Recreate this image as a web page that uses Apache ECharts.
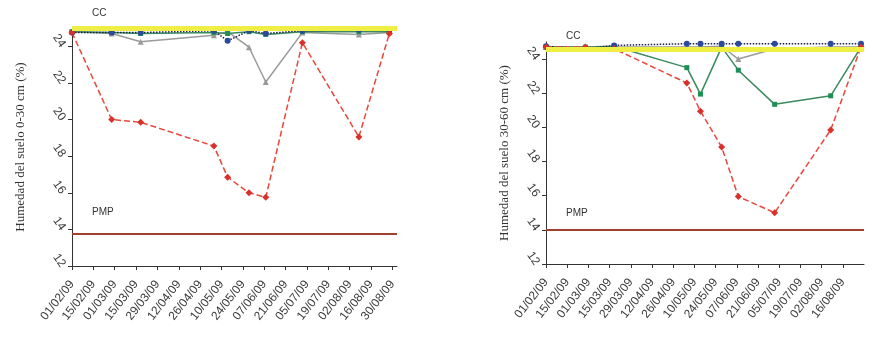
<!DOCTYPE html>
<html>
<head>
<meta charset="utf-8">
<script src="https://cdn.jsdelivr.net/npm/echarts@6/dist/echarts.min.js"></script>
<style>
    html, body { margin: 0; background: #fff; }
    #chart { width: 873px; height: 337px; }
</style>
</head>
<body>
<div id="chart"></div>
<script>
// fechas de muestreo (dd/mm/aa)
var fechas = ['01/02/09', '27/02/09', '18/03/09', '05/05/09', '14/05/09', '28/05/09', '08/06/09', '02/07/09', '08/08/09', '28/08/09'];

// etiquetas del eje x
var ticksIzq = ['01/02/09', '15/02/09', '01/03/09', '15/03/09', '29/03/09', '12/04/09', '26/04/09', '10/05/09',
    '24/05/09', '07/06/09', '21/06/09', '05/07/09', '19/07/09', '02/08/09', '16/08/09', '30/08/09'];
var ticksDer = ['01/02/09', '15/02/09', '01/03/09', '15/03/09', '29/03/09', '12/04/09', '26/04/09', '10/05/09',
    '24/05/09', '07/06/09', '21/06/09', '05/07/09', '19/07/09', '02/08/09', '16/08/09'];
var ticksY = [12, 14, 16, 18, 20, 22, 24];

// 0-30 cm
var rojo030 = [24.75, 20.0, 19.85, 18.55, 16.85, 16.0, 15.75, 24.2, 19.05, 24.7];
var gris030 = [24.8, 24.7, 24.25, 24.6, 24.8, 23.95, 22.05, 24.75, 24.65, 24.75];
var verde030 = [24.8, 24.75, 24.7, 24.75, 24.7, 24.8, 24.65, 24.8, 24.8, 24.8];
var azul030 = [24.75, 24.75, 24.75, 24.85, 24.3, 24.85, 24.7, 24.85, 24.9, 24.9];
var cc030 = 25, pmp030 = 13.75;

// 30-60 cm
var rojo3060 = [24.7, 24.7, 24.6, 22.6, 20.95, 18.85, 15.95, 15.0, 19.85, 24.7];
var gris3060 = [24.7, 24.7, 24.7, 24.7, 24.7, 24.75, 24.0, 24.6, 24.7, 24.7];
var verde3060 = [24.7, 24.7, 24.75, 23.5, 21.95, 24.7, 23.35, 21.35, 21.85, 24.7];
var azul3060 = [24.75, 24.6, 24.8, 24.9, 24.9, 24.9, 24.9, 24.9, 24.9, 24.9];
var cc3060 = 24.6, pmp3060 = 14;

// dias desde el 01/02/09
function dia(s) {
    var p = s.split('/');
    return (Date.UTC(2000 + (+p[2]), p[1] - 1, +p[0]) - Date.UTC(2009, 1, 1)) / 864e5;
}

function puntos(vals) {
    return fechas.map(function (f, i) { return [dia(f), vals[i]]; });
}

var etiquetas = {};
ticksIzq.forEach(function (t) { etiquetas[dia(t)] = t; });

var textoEje = {color: '#3a3a3a', fontFamily: 'Liberation Sans', fontSize: 12};

function ejeX(idx, ticks, max) {
    var vals = ticks.map(dia);
    return {
        type: 'value', gridIndex: idx, min: 0, max: max,
        splitLine: {show: false},
        axisLine: {onZero: false, lineStyle: {color: '#333', width: 1}},
        axisTick: {customValues: vals, length: 4, lineStyle: {color: '#333'}},
        axisLabel: Object.assign({
            customValues: vals, rotate: 52, margin: 16,
            formatter: function (v) { return etiquetas[v] || ''; }
        }, textoEje)
    };
}

function ejeY(idx, nombre, gap) {
    return {
        type: 'value', gridIndex: idx, min: 12, max: 25,
        name: nombre, nameLocation: 'middle', nameGap: gap, nameRotate: 90,
        nameTextStyle: {color: '#333', fontFamily: 'Liberation Serif', fontSize: 13},
        splitLine: {show: false},
        axisLine: {show: true, lineStyle: {color: '#333', width: 1}},
        axisTick: {show: true, customValues: ticksY, length: 4, lineStyle: {color: '#333'}},
        axisLabel: Object.assign({customValues: ticksY, rotate: -55, margin: 9}, textoEje)
    };
}

function lineas(idx, cc, pmp, dCC, dPMP) {
    return {
        type: 'line', xAxisIndex: idx, yAxisIndex: idx, data: [], z: 1,
        markLine: {
            silent: true, symbol: 'none', animation: false,
            data: [
                {yAxis: cc, lineStyle: {color: '#eeee44', width: 5, type: 'solid'},
                    label: {formatter: 'CC', position: 'insideStartTop', distance: [20, dCC], color: '#333', fontFamily: 'Liberation Sans', fontSize: 10}},
                {yAxis: pmp, lineStyle: {color: '#a3402a', width: 2, type: 'solid'},
                    label: {formatter: 'PMP', position: 'insideStartTop', distance: [20, dPMP], color: '#333', fontFamily: 'Liberation Sans', fontSize: 10}}
            ]
        }
    };
}

function serie(idx, vals, color, simbolo, tam, tipo, colorLinea) {
    return {
        type: 'line', xAxisIndex: idx, yAxisIndex: idx, data: puntos(vals), z: 3,
        symbol: simbolo, symbolSize: tam, clip: false, animation: false,
        itemStyle: {color: color},
        lineStyle: {color: colorLinea || color, width: 1.5, type: tipo}
    };
}

function panel(idx, rojo, gris, verde, azul) {
    return [
        serie(idx, gris, '#9a9a9a', 'triangle', 6, 'solid'),
        serie(idx, verde, '#1f8f55', 'rect', 5, 'solid', '#3a8a5e'),
        serie(idx, azul, '#2c4a9c', 'circle', 6, 'dotted', '#1a1f4a'),
        serie(idx, rojo, '#d9302a', 'diamond', 7, 'dashed', '#e8473a')
    ];
}

var myChart = echarts.init(document.getElementById('chart'));
myChart.setOption({
    backgroundColor: '#fff',
    animation: false,
    grid: [
        {left: 72, right: 476, top: 28, bottom: 71, outerBoundsMode: 'none'},
        {left: 546, right: 9, top: 42, bottom: 73, outerBoundsMode: 'none'}
    ],
    xAxis: [ejeX(0, ticksIzq, 213), ejeX(1, ticksDer, 210)],
    yAxis: [ejeY(0, 'Humedad del suelo 0-30 cm (%)', 45), ejeY(1, 'Humedad del suelo 30-60 cm (%)', 35)],
    series: [lineas(0, cc030, pmp030, 10, 17), lineas(1, cc3060, pmp3060, 8, 12)]
        .concat(panel(0, rojo030, gris030, verde030, azul030))
        .concat(panel(1, rojo3060, gris3060, verde3060, azul3060))
});
</script>
</body>
</html>
